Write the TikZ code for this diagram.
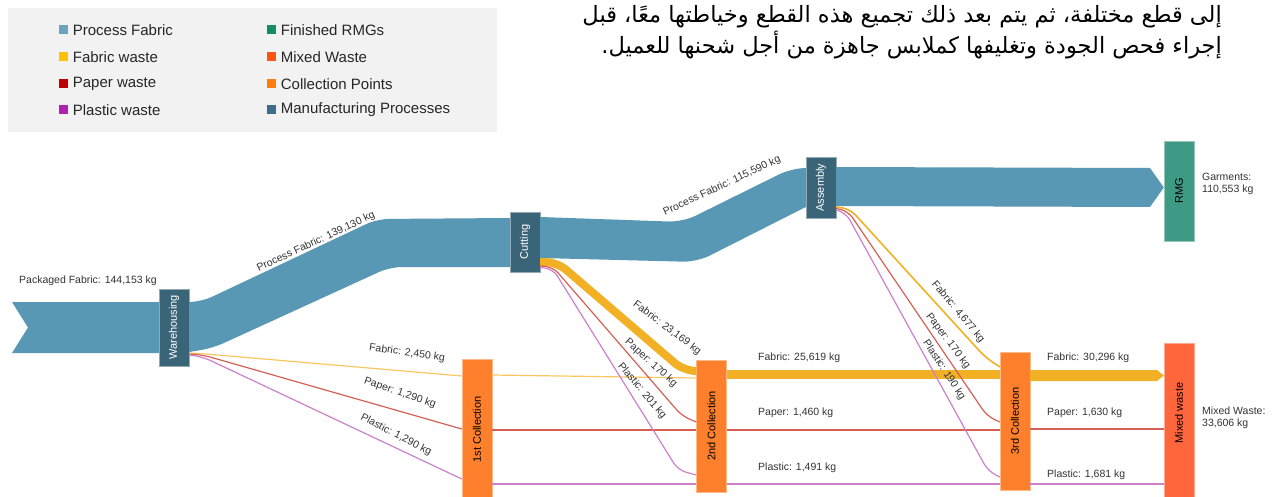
\documentclass[tikz,border=0pt]{standalone}
\usepackage{fontspec}
\setmainfont{Liberation Sans}
\newfontfamily\arabicfont[Script=Arabic]{DejaVu Sans}
\TeXXeTstate=1
\usetikzlibrary{positioning}

\definecolor{pfabric}{RGB}{88,152,180}
\definecolor{procnode}{RGB}{58,100,120}
\definecolor{rmgnode}{RGB}{62,154,132}
\definecolor{collnode}{RGB}{255,128,44}
\definecolor{mixnode}{RGB}{255,102,60}
\definecolor{fabwaste}{RGB}{242,176,36}
\definecolor{fabline}{RGB}{250,198,96}
\definecolor{paperline}{RGB}{212,96,84}
\definecolor{plasticline}{RGB}{204,128,204}
\definecolor{lgpf}{RGB}{108,163,192}
\definecolor{lgrmg}{RGB}{20,140,100}
\definecolor{lgfab}{RGB}{255,192,0}
\definecolor{lgmix}{RGB}{255,85,20}
\definecolor{lgpaper}{RGB}{192,0,0}
\definecolor{lgcoll}{RGB}{255,125,15}
\definecolor{lgplastic}{RGB}{176,32,176}
\definecolor{lgproc}{RGB}{60,110,140}

\begin{document}
\begin{tikzpicture}[x=1pt, y=-1pt,
		procbox/.style={fill=procnode, draw=procnode!55!white, minimum width=30pt, inner sep=0pt},
		collbox/.style={fill=collnode, draw=collnode!55!white, minimum width=30pt, inner sep=0pt},
		boxlbl/.style={font=\fontsize{11}{12}\selectfont, inner sep=0pt},
		flowlbl/.style={font=\fontsize{10.5}{12}\selectfont, text=black!80, inner sep=0pt},
		wasteline/.style={line width=1.2pt, rounded corners=8pt},
		legsq/.style={minimum size=9pt, inner sep=0pt},
		legtxt/.style={font=\fontsize{15}{16}\selectfont, text=black!85, inner sep=0pt}
	]
	\useasboundingbox (0,0) rectangle (1279,497);
	
	% legend
	\node[fill=black!5, minimum width=489pt, minimum height=124pt, inner sep=0pt] (legend) at (252.5,70) {};
	\node[legsq, fill=lgpf]      (lgpf)      at (63,30)  {};
	\node[legsq, fill=lgfab]     (lgfab)     at (63,57)  {};
	\node[legsq, fill=lgpaper]   (lgpaper)   at (63,84)  {};
	\node[legsq, fill=lgplastic] (lgplastic) at (63,110) {};
	\node[legsq, fill=lgrmg]     (lgrmg)     at (271,30)  {};
	\node[legsq, fill=lgmix]     (lgmix)     at (271,57)  {};
	\node[legsq, fill=lgcoll]    (lgcoll)    at (271,84)  {};
	\node[legsq, fill=lgproc]    (lgproc)    at (271,110) {};
	\node[legtxt, right=5pt of lgpf]      (txpf)      {Process Fabric};
	\node[legtxt, right=5pt of lgfab]     (txfab)     {Fabric waste};
	\node[legtxt, right=5pt of lgpaper]   (txpaper)   {Paper waste};
	\node[legtxt, right=5pt of lgplastic] (txplastic) {Plastic waste};
	\node[legtxt, right=5pt of lgrmg]     (txrmg)     {Finished RMGs};
	\node[legtxt, right=5pt of lgmix]     (txmix)     {Mixed Waste};
	\node[legtxt, right=5pt of lgcoll]    (txcoll)    {Collection Points};
	\node[legtxt, right=5pt of lgproc]    (txproc)    {Manufacturing Processes};
	
	% arabic caption
	\node[anchor=east, inner sep=0pt, font=\arabicfont\fontsize{22.5}{24}\selectfont] (arA) at (1222,17)
		{\beginR إلى قطع مختلفة، ثم يتم بعد ذلك تجميع هذه القطع وخياطتها معًا، قبل\endR};
	\node[anchor=east, inner sep=0pt, font=\arabicfont\fontsize{22.5}{24}\selectfont] (arB) at (1222,45)
		{\beginR إجراء فحص الجودة وتغليفها كملابس جاهزة من أجل شحنها للعميل.\endR};
	
	% process and collection boxes
	\node[procbox, minimum height=77pt, label={[rotate=90, text=white, boxlbl]center:Warehousing}] (wh) at (174,327.5) {};
	\node[procbox, minimum height=60pt, label={[rotate=90, text=white, boxlbl]center:Cutting}] (cut) at (525,242) {};
	\node[procbox, minimum height=61pt, label={[rotate=90, text=white, boxlbl]center:Assembly}] (asm) at (821,187.5) {};
	\node[fill=rmgnode, draw=rmgnode!55!white, minimum width=30pt, minimum height=100pt, inner sep=0pt,
		label={[rotate=90, boxlbl]center:RMG}] (rmg) at (1179,191) {};
	\node[collbox, minimum height=141pt, label={[rotate=90, boxlbl]center:1st Collection}] (cA) at (477,429.5) {};
	\node[collbox, minimum height=132pt, label={[rotate=90, boxlbl]center:2nd Collection}] (cB) at (711.5,426) {};
	\node[collbox, minimum height=138pt, label={[rotate=90, boxlbl]center:3rd Collection}] (cC) at (1015,421) {};
	\node[fill=mixnode, draw=mixnode!55!white, minimum width=30pt, minimum height=157pt, inner sep=0pt] (mix) at (1179,421.5) {};
	\node[rotate=90, boxlbl] (mixlbl) at (1179,413) {Mixed waste};
	
	% fabric flows
	\coordinate (src) at (12,302);
	\fill[pfabric] (src) -- (wh.west |- 0,302) -- (wh.west |- 0,353) -- (12,353) -- (28,327.5) -- cycle;
	\fill[pfabric] (wh.east |- 0,302) [rounded corners=12pt] -- (201,302) -- (377,219) [sharp corners] -- (cut.west |- 0,218)
		-- (cut.west |- 0,267) [rounded corners=12pt] -- (390,267) -- (213,348)
		[sharp corners] -- (wh.east |- 0,352) -- cycle;
	\fill[pfabric] (cut.east |- 0,217) [rounded corners=14pt] -- (683,222) -- (792,168) [sharp corners] -- (asm.west |- 0,168)
		-- (asm.west |- 0,207) [rounded corners=14pt] -- (697,262) [sharp corners] -- (cut.east |- 0,258)
		-- cycle;
	\fill[pfabric] (asm.east |- 0,167) -- (1150,168) -- (rmg.west |- 0,187.5) -- (1150,207) -- (asm.east |- 0,206) -- cycle;
	
	% waste from warehousing
	\draw[wasteline, fabline]      (wh.east |- 0,353) -- (200,353.5) -- (cA.west |- 0,376);
	\draw[wasteline, paperline]    (wh.east |- 0,354) -- (203,355) -- (cA.west |- 0,429);
	\draw[wasteline, plasticline]  (wh.east |- 0,355) -- (203,357) -- (cA.west |- 0,479);
	\draw[wasteline, fabline]      (cA.east |- 0,375) -- (cB.west |- 0,378);
	\draw[wasteline, paperline]    (cA.east |- 0,430) -- (cB.west |- 0,430);
	\draw[wasteline, plasticline]  (cA.east |- 0,484) -- (cB.west |- 0,484);
	
	% waste from cutting
	\draw[line width=8pt, fabwaste, rounded corners=12pt] (cut.east |- 0,262) -- (557,262) -- (684,371) -- (cB.west |- 0,371);
	\draw[wasteline, paperline]    (cut.east |- 0,266) -- (553,267) -- (682,416) -- (cB.west |- 0,422);
	\draw[wasteline, plasticline]  (cut.east |- 0,267.5) -- (553,269) -- (678,470) -- (cB.west |- 0,475);
	\draw[line width=9pt, fabwaste] (cB.east |- 0,374.5) -- (cC.west |- 0,374.5);
	\draw[wasteline, paperline]    (cB.east |- 0,430) -- (cC.west |- 0,430);
	\draw[wasteline, plasticline]  (cB.east |- 0,484) -- (cC.west |- 0,484);
	
	% waste from assembly
	\draw[wasteline, line width=1.6pt, fabwaste] (asm.east |- 0,207) -- (850,209) -- (985,357) -- (cC.west |- 0,367);
	\draw[wasteline, paperline]    (asm.east |- 0,208.5) -- (848,211) -- (987,416) -- (cC.west |- 0,422);
	\draw[wasteline, plasticline]  (asm.east |- 0,210) -- (846,213) -- (988,471) -- (cC.west |- 0,477);
	\fill[fabwaste] (cC.east |- 0,370) -- (1157,370) -- (mix.west |- 0,375.5) -- (1157,381) -- (cC.east |- 0,381) -- cycle;
	\draw[wasteline, paperline]    (cC.east |- 0,429) -- (mix.west |- 0,429);
	\draw[wasteline, plasticline]  (cC.east |- 0,484) -- (mix.west |- 0,484);
	
	% flow labels
	\node[flowlbl] (lpack) at (88,281) {Packaged Fabric: 144,153 kg};
	\node[flowlbl, rotate=25] (lpfA) at (316,242) {Process Fabric: 139,130 kg};
	\node[flowlbl, rotate=25] (lpfB) at (722,186) {Process Fabric: 115,590 kg};
	\node[flowlbl, rotate=-8]  (lfabA)  at (407,353) {Fabric: 2,450 kg};
	\node[flowlbl, rotate=-19] (lpapA)  at (400,393) {Paper: 1,290 kg};
	\node[flowlbl, rotate=-27] (lplaA)  at (396,435) {Plastic: 1,290 kg};
	\node[flowlbl, rotate=-37] (lfabB)  at (667,328) {Fabric: 23,169 kg};
	\node[flowlbl, rotate=-42] (lpapB)  at (651,363) {Paper: 170 kg};
	\node[flowlbl, rotate=-50] (lplaB)  at (642,391) {Plastic: 201 kg};
	\node[flowlbl, anchor=west] (lfabC) at (758,358) {Fabric: 25,619 kg};
	\node[flowlbl, anchor=west] (lpapC) at (758,413) {Paper: 1,460 kg};
	\node[flowlbl, anchor=west] (lplaC) at (758,468) {Plastic: 1,491 kg};
	\node[flowlbl, rotate=-50] (lfabD)  at (958,312) {Fabric: 4,677 kg};
	\node[flowlbl, rotate=-53] (lpapD)  at (948,341) {Paper: 170 kg};
	\node[flowlbl, rotate=-57] (lplaD)  at (944,370) {Plastic: 190 kg};
	\node[flowlbl, anchor=west] (lfabE) at (1047,358) {Fabric: 30,296 kg};
	\node[flowlbl, anchor=west] (lpapE) at (1047,413) {Paper: 1,630 kg};
	\node[flowlbl, anchor=west] (lplaE) at (1047,475) {Plastic: 1,681 kg};
	\node[flowlbl, anchor=west, align=left] (lrmg) at (1202,184) {Garments:\\110,553 kg};
	\node[flowlbl, anchor=west, align=left] (lmix) at (1202,418) {Mixed Waste:\\33,606 kg};
\end{tikzpicture}
\end{document}
